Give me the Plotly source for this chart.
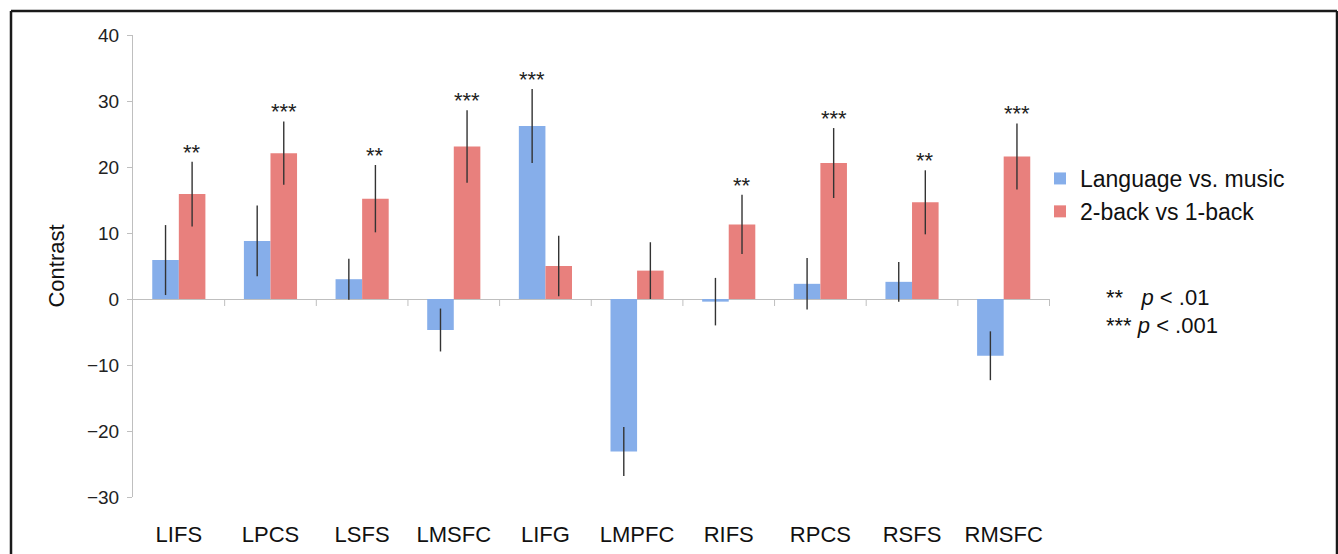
import plotly.graph_objects as go

regions = ["LIFS", "LPCS", "LSFS", "LMSFC", "LIFG", "LMPFC", "RIFS", "RPCS", "RSFS", "RMSFC"]
lang_vals = [5.9, 8.8, 3.0, -4.7, 26.2, -23.1, -0.4, 2.3, 2.6, -8.6]
lang_err = [5.3, 5.35, 3.1, 3.25, 5.6, 3.7, 3.6, 3.9, 3.0, 3.7]
back_vals = [15.9, 22.1, 15.2, 23.1, 5.0, 4.3, 11.3, 20.6, 14.65, 21.6]
back_err = [4.9, 4.8, 5.1, 5.5, 4.6, 4.3, 4.5, 5.3, 4.85, 5.0]
lang_stars = ["", "", "", "", "***", "", "", "", "", ""]
back_stars = ["**", "***", "**", "***", "", "", "**", "***", "**", "***"]
y_ticks = [-30, -20, -10, 0, 10, 20, 30, 40]

FONT = "Liberation Sans, Arial, sans-serif"
BLUE = "#86aeea"
RED = "#e8807d"
AXIS = "#bfbfbf"

fig = go.Figure()
fig.add_trace(go.Bar(
    x=regions, y=lang_vals, name="Language vs. music",
    marker=dict(color=BLUE, line=dict(width=0)),
    error_y=dict(type="data", array=lang_err, color="#333333", thickness=1.4, width=0),
))
fig.add_trace(go.Bar(
    x=regions, y=back_vals, name="2-back vs 1-back",
    marker=dict(color=RED, line=dict(width=0)),
    error_y=dict(type="data", array=back_err, color="#333333", thickness=1.4, width=0),
))

annotations = []
half = (1 - 0.42) / 4
for i, r in enumerate(regions):
    if lang_stars[i]:
        annotations.append(dict(x=i - half, y=lang_vals[i] + lang_err[i], xref="x", yref="y",
                                text=lang_stars[i], showarrow=False, yanchor="bottom",
                                yshift=-5, font=dict(family=FONT, size=22, color="#222")))
    if back_stars[i]:
        annotations.append(dict(x=i + half, y=back_vals[i] + back_err[i], xref="x", yref="y",
                                text=back_stars[i], showarrow=False, yanchor="bottom",
                                yshift=-5, font=dict(family=FONT, size=22, color="#222")))

annotations.append(dict(x=(1104 - 133) / 917, y=(497 - 297) / 462, xref="paper", yref="paper",
                        xanchor="left", yanchor="middle", showarrow=False,
                        text="**&nbsp;&nbsp;&nbsp;<i>p</i> &lt; .01",
                        font=dict(family=FONT, size=22, color="#111")))
annotations.append(dict(x=(1104 - 133) / 917, y=(497 - 325) / 462, xref="paper", yref="paper",
                        xanchor="left", yanchor="middle", showarrow=False,
                        text="*** <i>p</i> &lt; .001",
                        font=dict(family=FONT, size=22, color="#111")))

shapes = []
for i in range(len(regions)):
    shapes.append(dict(type="line", xref="x", yref="y", x0=i + 0.5, x1=i + 0.5,
                       ysizemode="pixel", yanchor=0, y0=0, y1=-7,
                       line=dict(color=AXIS, width=1)))

# outer frame
fx0, fx1 = (11 - 133) / 917, (1337 - 133) / 917
fy1, fy0 = (497 - 11) / 462, (497 - 600) / 462
for (x0, y0, x1, y1) in [(fx0, fy1, fx1, fy1), (fx0, fy0, fx0, fy1), (fx1, fy0, fx1, fy1)]:
    shapes.append(dict(type="line", xref="paper", yref="paper", x0=x0, y0=y0, x1=x1, y1=y1,
                       line=dict(color="#1a1a1a", width=2.5)))

fig.update_layout(
    width=1338, height=554,
    margin=dict(l=133, r=288, t=35, b=57, autoexpand=False),
    paper_bgcolor="white", plot_bgcolor="white",
    barmode="group", bargap=0.42, bargroupgap=0,
    font=dict(family=FONT, color="#222"),
    showlegend=True,
    legend=dict(x=(1040 - 133) / 917, y=(497 - 157) / 462, xanchor="left", yanchor="top",
                font=dict(family=FONT, size=23, color="#111"), bgcolor="rgba(0,0,0,0)",
                traceorder="normal"),
    xaxis=dict(showline=False, showgrid=False, zeroline=False, ticks="outside", ticklen=18,
               tickcolor="rgba(0,0,0,0)", tickfont=dict(family=FONT, size=22, color="#111")),
    yaxis=dict(range=[-30, 40], tickvals=y_ticks, showgrid=False, zeroline=True,
               zerolinecolor=AXIS, zerolinewidth=1, showline=True, linecolor=AXIS, linewidth=1,
               ticks="outside", ticklen=5, tickcolor=AXIS, ticklabelstandoff=4,
               tickfont=dict(family=FONT, size=19, color="#222"),
               title=dict(text="Contrast", font=dict(family=FONT, size=22, color="#111"), standoff=16)),
    annotations=annotations,
    shapes=shapes,
)

fig.write_html("out.html", config={"displayModeBar": False},
               post_script="document.body.style.margin='0';document.body.style.overflow='hidden';")
